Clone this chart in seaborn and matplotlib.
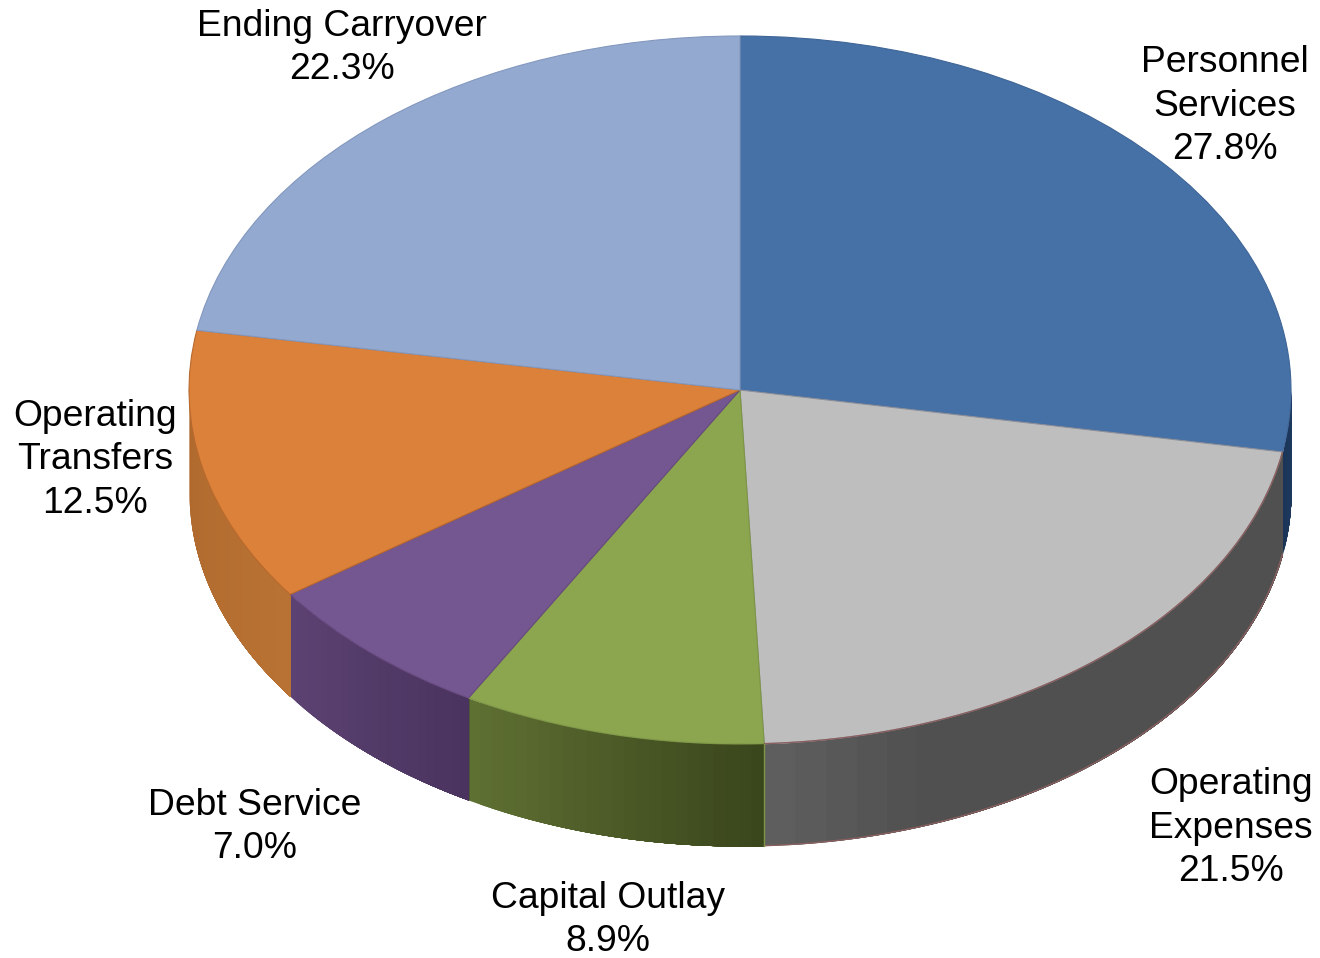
import numpy as np
import matplotlib.pyplot as plt
import matplotlib.colors as mcolors
import seaborn as sns

# Budget shares, clockwise from twelve o'clock
categories = ['Personnel\nServices', 'Operating\nExpenses', 'Capital Outlay',
              'Debt Service', 'Operating\nTransfers', 'Ending Carryover']
shares = [27.8, 21.5, 8.9, 7.0, 12.5, 22.3]

top_colors = ['#4571A6', '#BEBEBE', '#8CA64F', '#745690', '#DC813A', '#93A9CF']
# side wall shades, left end and right end on screen
side_left = ['#1A3558', '#5E5E5E', '#5F7033', '#5C4272', '#B0692D', '#B0692D']
side_right = ['#1F3B60', '#505050', '#3A461C', '#4A345F', '#B87233', '#B87233']
edge_colors = ['#3F6597', '#8C8F9A', '#7D9545', '#67497F', '#B9692D', '#8398BE']

# Label centres in pixels
label_x = [1225, 1231, 608, 255, 95, 342]
label_y = [106, 828, 920, 827, 460, 48]

width, height = 1320, 958
center_x, center_y = 740, 390
radius_x, radius_y = 551, 354
depth = 102 / radius_y

sns.set_theme(style='white')
plt.rcParams['font.family'] = ['Liberation Sans', 'DejaVu Sans']

fig = plt.figure(figsize=(width / 100, height / 100), dpi=100)
ax = fig.add_axes([0, 0, 1, 1])

wedges, _ = ax.pie(shares, colors=sns.color_palette(top_colors), startangle=90,
                   counterclock=False, radius=1)
for wedge, edge in zip(wedges, edge_colors):
    wedge.set_edgecolor(edge)
    wedge.set_linewidth(0.8)

# Side wall of the slices that reach the front half of the disc (-180 to 0 degrees)
bounds = 90 - np.cumsum([0] + shares) * 3.6
for i in range(len(shares)):
    hi = min(bounds[i], 0)
    lo = max(bounds[i + 1], -180)
    if hi <= lo:
        continue
    fine = np.radians(np.linspace(lo, hi, 241))
    c_left = np.array(mcolors.to_rgb(side_left[i]))
    c_right = np.array(mcolors.to_rgb(side_right[i]))
    # painted left to right, each strip runs to the slice end so no seams show
    steps = 24
    for k in range(steps):
        frac = k / (steps - 1)
        if i == 1:
            frac = min(frac * 5, 1)  # grey only fades near its left end
        shade = c_left + (c_right - c_left) * frac
        seg = fine[k * 10:]
        ax.fill_between(np.cos(seg), np.sin(seg), np.sin(seg) - depth,
                        color=shade, linewidth=0, zorder=0.5)
    if i == 1:
        # thin reddish rim on the grey slice
        ax.plot(np.cos(fine), np.sin(fine) - depth, color='#8A5F5F', lw=1, zorder=1.5)
        ax.plot(np.cos(fine), np.sin(fine), color='#8A5F5F', lw=1, zorder=1.5)
        ax.plot([np.cos(fine[0])] * 2, [np.sin(fine[0]), np.sin(fine[0]) - depth],
                color='#7D9545', lw=1, zorder=1.5)

# pie() forces equal aspect, squash the disc back to the ellipse
ax.set_aspect('auto')
ax.set_xlim(-center_x / radius_x, (width - center_x) / radius_x)
ax.set_ylim((center_y - height) / radius_y, center_y / radius_y)
ax.axis('off')

for name, share, x, y in zip(categories, shares, label_x, label_y):
    fig.text(x / width, 1 - y / height, f'{name}\n{share:.1f}%', ha='center', va='center',
             ma='center', fontsize=26.8, color='black', linespacing=1.31)

fig.savefig('out.png', dpi=100, facecolor='white')
